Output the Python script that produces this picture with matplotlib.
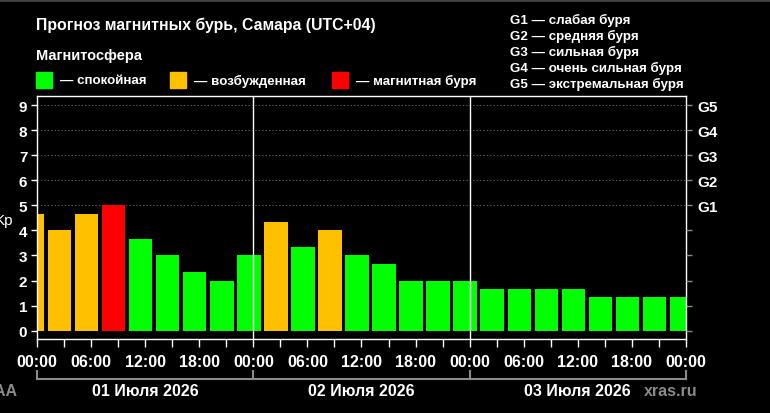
import numpy as np
import matplotlib
matplotlib.use("Agg")
import matplotlib.pyplot as plt
from matplotlib.lines import Line2D

# Kp forecast, 3-hour bins in local time (UTC+04): bins start at 22:00 of the
# previous day, so the first and last bars are clipped by the axis range.
kp = [4.67, 4.0, 4.67, 5.0, 3.67, 3.0, 2.33, 2.0, 3.0,
      4.33, 3.33, 4.0, 3.0, 2.67, 2.0, 2.0, 2.0,
      1.67, 1.67, 1.67, 1.67, 1.33, 1.33, 1.33, 1.33]
bin_start_h = -2
tick_labels = ["00:00", "06:00", "12:00", "18:00"] * 3 + ["00:00"]
days = ["01 Июля 2026", "02 Июля 2026", "03 Июля 2026"]
g_levels = ["G1", "G2", "G3", "G4", "G5"]
g_names = ["слабая буря", "средняя буря", "сильная буря",
           "очень сильная буря", "экстремальная буря"]
legend_names = ["спокойная", "возбужденная", "магнитная буря"]

C_GREEN = "#00ff00"
C_ORANGE = "#ffc000"
C_RED = "#ff0000"
C_GRAY = "#8a8a8a"
BOLD = "Liberation Sans"
NARROW = ["Liberation Sans Narrow", "Liberation Sans"]

W, H = 770, 414
fig = plt.figure(figsize=(W / 100, H / 100), dpi=100, facecolor="black")


def fx(px):
    return px / W


def fy(py):
    return 1 - py / H


ax = fig.add_axes([fx(37), fy(340), fx(686) - fx(37), fy(97) - fy(340)])
ax.set_facecolor("black")

colors = [C_RED if v >= 5 else C_ORANGE if v >= 4 else C_GREEN for v in kp]
centers = bin_start_h + 1.5 + 3 * np.arange(len(kp))
ax.bar(centers, kp, width=2.6, color=colors, zorder=2)

for lvl in range(5, 10):
    ax.axhline(lvl, color="#5a5a5a", lw=0.7, ls=(0, (1.5, 2)), zorder=1)
for d in (24, 48):
    ax.axvline(d, color="white", lw=1.0, zorder=3)

ax.set_xlim(0, 72)
ax.set_ylim(-0.33, 9.36)
for s in ax.spines.values():
    s.set_color("white")
    s.set_linewidth(1.0)

ax.set_yticks(range(10))
ax.set_yticklabels([str(i) for i in range(10)], color="white",
                   fontsize=11, fontweight="bold", family=BOLD)
ax.tick_params(axis="y", colors="white", length=4, width=1, pad=3)
ax.set_xticks(np.arange(0, 73, 6))
ax.set_xticklabels(tick_labels, color="white", fontsize=11.5,
                   fontweight="bold", family=NARROW)
ax.set_xticks(np.arange(3, 72, 6), minor=True)
ax.tick_params(axis="x", which="both", colors="white", length=6, width=1,
               pad=5)

axr = ax.twinx()
axr.set_ylim(ax.get_ylim())
axr.set_yticks(range(10))
axr.set_yticklabels([""] * 5 + g_levels, color="white", fontsize=11,
                    fontweight="bold", family=BOLD)
axr.tick_params(axis="y", colors=C_GRAY, labelcolor="white", length=4,
                width=1, pad=4)
for s in axr.spines.values():
    s.set_visible(False)

fig.text(fx(13), fy(221), "Kp", color="white", fontsize=11, family=BOLD,
         ha="right", va="center")

# titles and legend
fig.text(fx(36), fy(25), "Прогноз магнитных бурь, Самара (UTC+04)",
         color="white", fontsize=11.4, fontweight="bold", family=BOLD,
         va="center")
fig.text(fx(36), fy(56), "Магнитосфера", color="white", fontsize=10.5,
         fontweight="bold", family=BOLD, va="center")
for x0, c, name in zip((36, 170, 332), (C_GREEN, C_ORANGE, C_RED),
                       legend_names):
    fig.patches.append(plt.Rectangle((fx(x0), fy(89)), fx(16), fy(73) - fy(89),
                                     transform=fig.transFigure, color=c))
    fig.text(fx(x0 + 24), fy(81), "— " + name, color="white", fontsize=9.6,
             fontweight="bold", family=BOLD, va="center")
for i, (g, name) in enumerate(zip(g_levels, g_names)):
    fig.text(fx(510), fy(20 + 16 * i), f"{g} — {name}", color="white",
             fontsize=9.6, fontweight="bold", family=BOLD, va="center")

# day bracket under the time axis
yb = fy(380)
fig.add_artist(Line2D([fx(37), fx(686)], [yb, yb], color=C_GRAY, lw=1.5,
                      transform=fig.transFigure))
for xp in np.linspace(37, 686, 4):
    fig.add_artist(Line2D([fx(xp), fx(xp)], [yb, fy(372)], color=C_GRAY,
                          lw=1.5, transform=fig.transFigure))
for i, day in enumerate(days):
    xc = 37 + (686 - 37) * (i + 0.5) / 3
    fig.text(fx(xc), fy(392), day, color="white", fontsize=11.5,
             fontweight="bold", family=NARROW, ha="center", va="center")
fig.text(fx(18), fy(392), "NOAA", color=C_GRAY, fontsize=11.5,
         fontweight="bold", family=NARROW, ha="right", va="center")
fig.text(fx(671), fy(392), "xras.ru", color=C_GRAY, fontsize=11.5,
         fontweight="bold", family=NARROW, ha="center", va="center")

fig.add_artist(Line2D([0, 1], [fy(1), fy(1)], color="#444444", lw=2,
                      transform=fig.transFigure))

fig.savefig("out.png", dpi=100, facecolor="black")
